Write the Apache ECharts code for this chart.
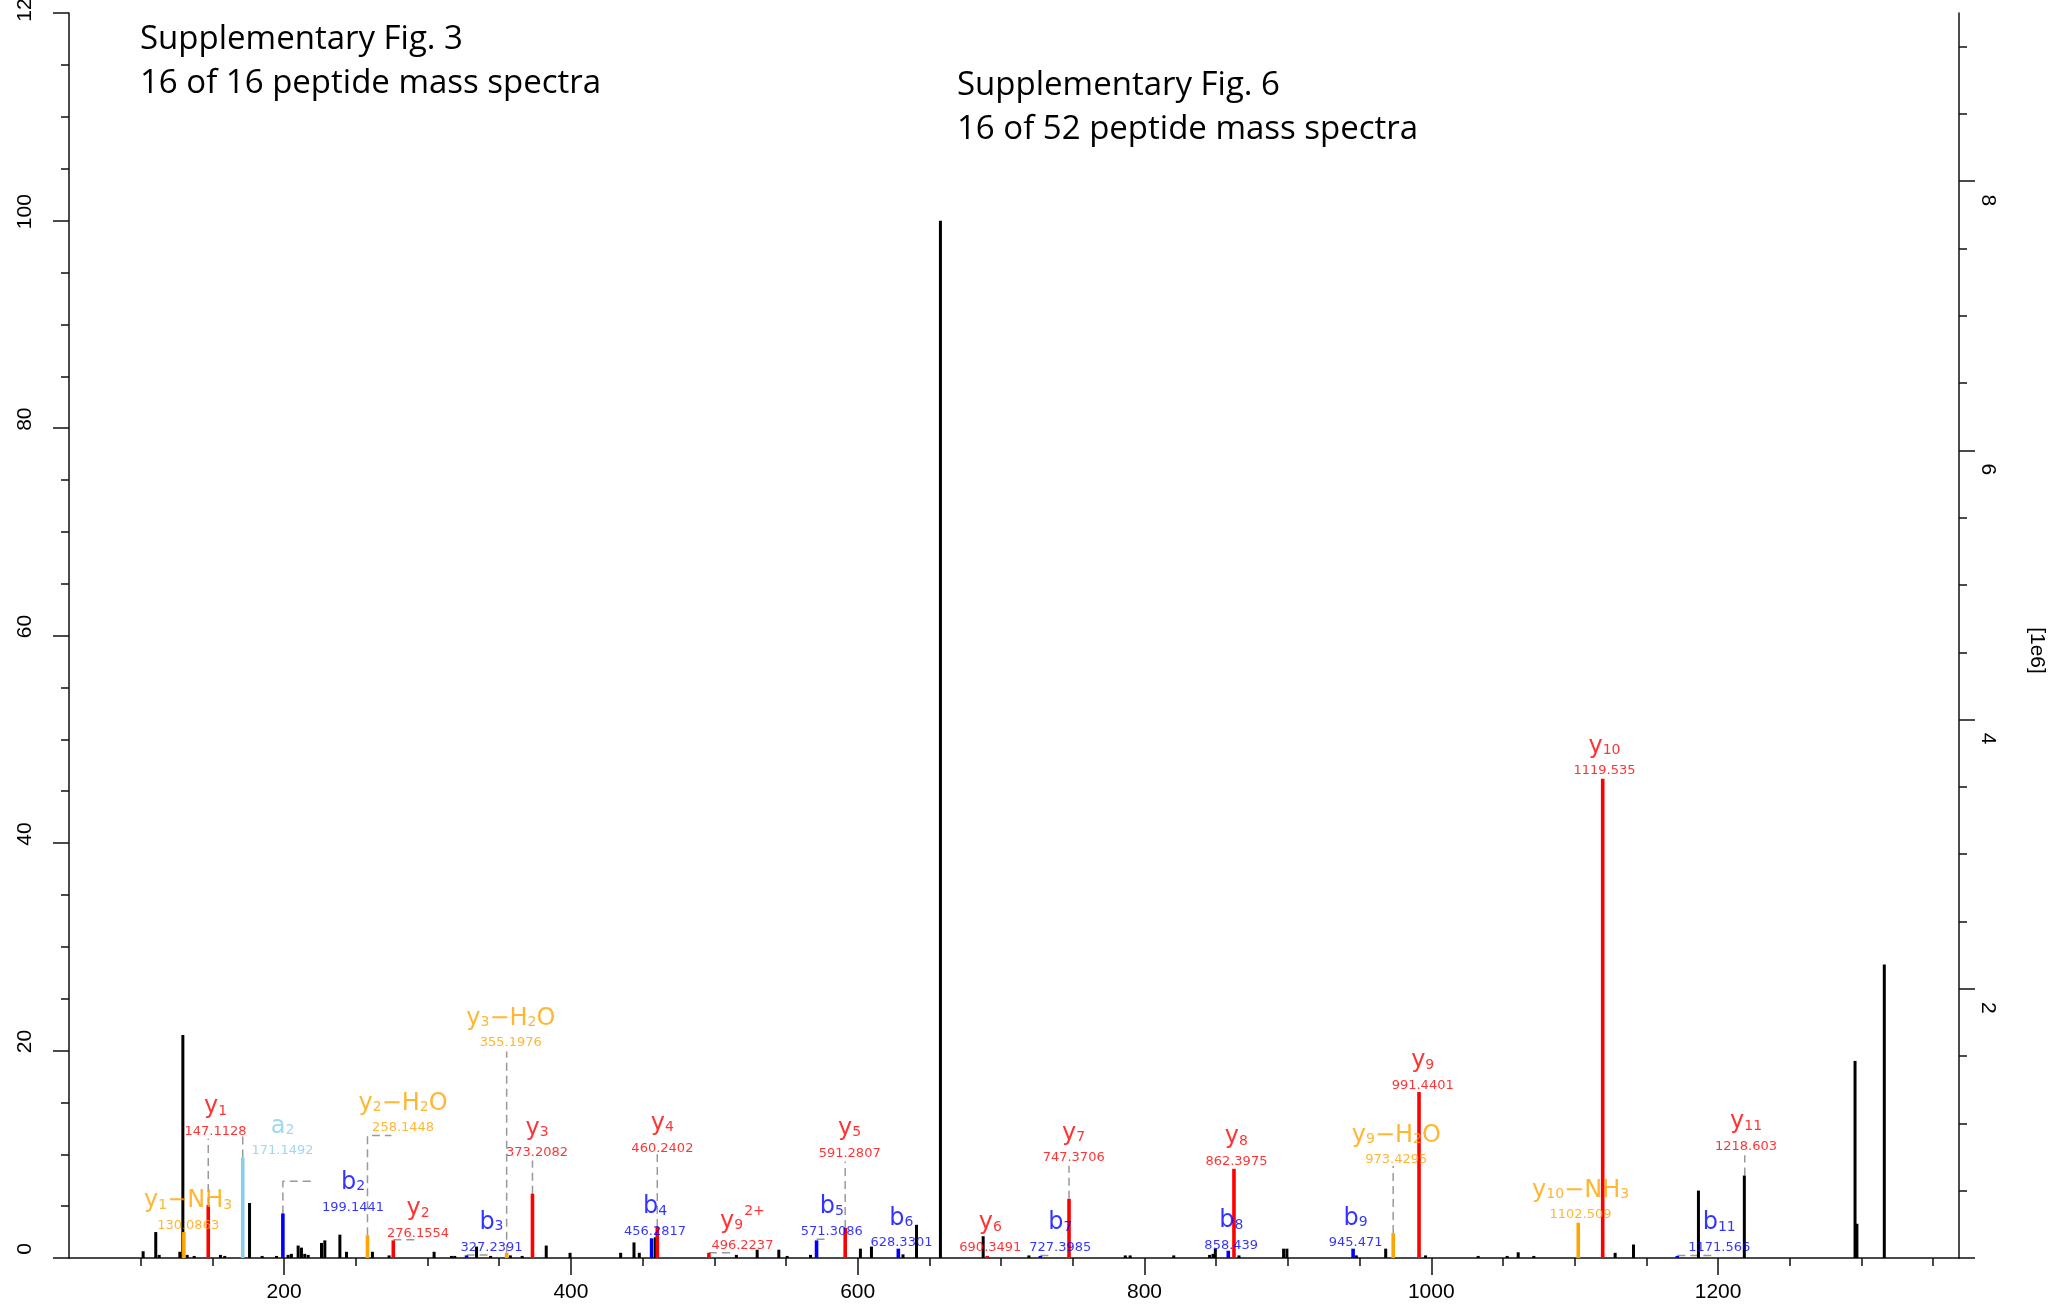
<!DOCTYPE html>
<html>
<head>
<meta charset="utf-8">
<title>Peptide mass spectrum</title>
<script src="https://cdn.jsdelivr.net/npm/echarts@6/dist/echarts.min.js"></script>
<style>
  html, body { margin: 0; padding: 0; background: #fff; }
  #chart { width: 2048px; height: 1306px; }
</style>
</head>
<body>
<div id="chart"></div>
<script>
"use strict";

/*****Data start*****/
// unannotated peaks: [m/z, relative intensity %]
var otherPeaks = [
	[101.7,0.65],[110.5,2.5],[112.9,0.3],[127.3,0.6],[129.4,21.5],[132.4,0.3],[137.3,0.2],
	[155.6,0.3],[158.6,0.2],[175.9,5.3],[184.7,0.2],[194.7,0.2],[202.8,0.3],[205.1,0.4],
	[209.8,1.2],[212.1,1.0],[214.4,0.4],[216.8,0.3],[226.1,1.45],[228.4,1.7],[238.9,2.25],
	[243.5,0.6],[261.6,0.6],[273.2,0.25],[304.6,0.6],[316.7,0.2],[319.0,0.2],[334.2,1.1],
	[344.0,0.2],[357.8,0.25],[366.0,0.2],[382.8,1.2],[399.4,0.5],[434.7,0.5],[444.0,1.5],
	[447.7,0.5],[458.9,2.0],[515.4,0.3],[529.9,0.8],[545.0,0.8],[550.8,0.2],[567.1,0.3],
	[601.9,0.9],[609.6,1.1],[631.6,0.35],[641.0,3.2],[657.7,100],[687.5,2.1],[719.4,0.25],
	[786.6,0.25],[790.0,0.25],[820.4,0.25],[845.4,0.3],[847.8,0.4],[849.4,0.9],[865.9,0.25],
	[897.0,0.9],[899.3,0.9],[947.7,0.25],[968.2,0.9],[996.0,0.25],[1032.7,0.2],[1052.9,0.2],
	[1060.6,0.55],[1071.5,0.2],[1128.2,0.5],[1141.0,1.3],[1186.3,6.5],[1218.3,7.95],
	[1295.5,19.0],[1296.8,3.3],[1315.9,28.3]
];
// annotated peaks
var yIons = [
	[147.1128,5.1],[276.1554,1.7],[373.2082,6.2],[460.2402,3.0],[496.2237,0.5],[591.2807,2.9],
	[690.3491,0.2],[747.3706,5.7],[862.3975,8.6],[991.4401,16.0],[1119.535,46.2]
];
var bIons = [
	[199.1441,4.3],[327.2391,0.25],[456.2817,1.9],[571.3086,1.7],[628.3301,0.9],[727.3985,0.2],
	[858.439,0.7],[945.471,0.9],[1171.566,0.2]
];
var lossIons = [[130.0863,2.5],[258.1448,2.2],[355.1976,0.5],[973.4295,2.4],[1102.509,3.4]];
var aIons = [[171.1492,9.7]];

// peak labels
var labelNames = ['y_1−NH_3','y_1','a_2','b_2','y_2−H_2O','y_2','b_3','y_3−H_2O','y_3','b_4','y_4','y_9^2+',
	'b_5','y_5','b_6','y_6','b_7','y_7','b_8','y_8','b_9','y_9−H_2O','y_9','y_10−NH_3','y_10','b_11','y_11'];
var labelMz = ['130.0863','147.1128','171.1492','199.1441','258.1448','276.1554','327.2391','355.1976',
	'373.2082','456.2817','460.2402','496.2237','571.3086','591.2807','628.3301','690.3491','727.3985',
	'747.3706','858.439','862.3975','945.471','973.4295','991.4401','1102.509','1119.535','1171.566','1218.603'];
var labelKind = ['loss','y','a','b','loss','y','b','loss','y','b','y','y','b','y','b','y','b','y','b','y','b',
	'loss','y','loss','y','b','y'];
var labelX = [133.1,152.2,198.9,248.1,283.0,293.4,344.6,358.1,376.4,458.7,463.8,519.6,581.9,594.4,630.5,
	692.5,741.3,750.6,860.5,864.1,947.2,975.6,994.0,1104.1,1120.8,1200.8,1219.5];
var labelY = [2.8,11.86,10.0,4.56,12.2,2.0,0.7,20.4,9.8,2.2,10.25,0.84,2.2,9.76,1.1,0.67,0.67,9.3,0.87,
	8.94,1.1,9.1,16.3,3.8,46.6,0.67,10.4];

// dashed connectors from peak to label
var connectors = [
	[[147.1128,5.1],[147.1128,11.5]],
	[[171.1492,9.7],[171.1492,12.0]],
	[[199.1441,4.3],[199.1441,7.4],[221.4,7.4]],
	[[258.1448,2.2],[258.1448,11.8],[274.9,11.8]],
	[[276.1554,1.75],[293.0,1.75]],
	[[327.2391,0.3],[343.7,0.3]],
	[[355.1976,0.5],[355.1976,19.9]],
	[[373.2082,6.2],[373.2082,9.4]],
	[[460.2402,3.0],[460.2402,10.0]],
	[[496.2237,0.5],[512.0,0.5]],
	[[571.3086,1.8],[578.0,1.8]],
	[[591.2807,2.9],[591.2807,9.3]],
	[[727.3985,0.25],[733.0,0.25]],
	[[747.3706,5.7],[747.3706,8.9]],
	[[973.4295,2.4],[973.4295,8.9]],
	[[1171.566,0.25],[1197.0,0.25]],
	[[1218.603,7.95],[1218.603,9.9]]
];

// axis ticks
var xMajor = [200,400,600,800,1000,1200];
var xMinor = [100,150,250,300,350,450,500,550,650,700,750,850,900,950,1050,1100,1150,1250,1300,1350];
var leftMajor = [0,20,40,60,80,100,120];
var leftMinor = [5,10,15,25,30,35,45,50,55,65,70,75,85,90,95,105,110,115];
var rightMajor = [0,2,4,6,8];
var rightLabels = [2,4,6,8];
var rightMinor = [0.5,1,1.5,2.5,3,3.5,4.5,5,5.5,6.5,7,7.5,8.5,9];
/*****Data end*****/

var kindColor = { y: '#ff0000', b: '#0000ff', loss: '#ffa500', a: '#87ceeb' };
var labelFont = "'DejaVu Sans', sans-serif";
var axisFont = "'Liberation Sans', Arial, sans-serif";
var titleFont = "'Open Sans', 'Noto Sans', sans-serif";

/*****Helpers start*****/
var stickSeries = function(data, color, width) {
	return {
		type: 'custom',
		xAxisIndex: 0,
		yAxisIndex: 0,
		silent: true,
		data: data,
		renderItem: function(params, api) {
			var top = api.coord([api.value(0), api.value(1)]);
			var base = api.coord([api.value(0), 0]);
			return {
				type: 'rect',
				shape: { x: top[0] - width / 2, y: top[1], width: width, height: Math.max(base[1] - top[1], 2) },
				style: { fill: color }
			};
		}
	};
};

var richName = function(str) {
	return str.split(/(_\d+|\^[\d+]+)/).filter(Boolean).map(function(part) {
		if (part.charAt(0) === '_') return '{s|' + part.slice(1) + '}';
		if (part.charAt(0) === '^') return '{p|' + part.slice(1) + '}';
		return '{n|' + part + '}';
	}).join('');
};

var richFor = function(color) {
	return {
		n: { fontFamily: labelFont, fontSize: 24, lineHeight: 34, color: color },
		s: { fontFamily: labelFont, fontSize: 14, color: color, padding: [8, 0, 0, 0] },
		p: { fontFamily: labelFont, fontSize: 14, color: color, padding: [0, 0, 19, 1] },
		m: { fontFamily: labelFont, fontSize: 13, lineHeight: 15, color: color }
	};
};
/*****Helpers end*****/

var series = [
	stickSeries(otherPeaks, '#000000', 3),
	stickSeries(yIons, kindColor.y, 3.6),
	stickSeries(bIons, kindColor.b, 3.6),
	stickSeries(lossIons, kindColor.loss, 3.6),
	stickSeries(aIons, kindColor.a, 3.6)
];

connectors.forEach(function(pts) {
	series.push({
		type: 'line',
		xAxisIndex: 0,
		yAxisIndex: 0,
		data: pts,
		symbol: 'none',
		silent: true,
		lineStyle: { color: '#999999', width: 1.5, type: [8, 5] },
		z: 1
	});
});

['y', 'b', 'loss', 'a'].forEach(function(kind) {
	var items = [];
	for (var i = 0; i < labelNames.length; i++) {
		if (labelKind[i] !== kind) continue;
		items.push({
			value: [labelX[i], labelY[i]],
			label: { formatter: richName(labelNames[i]) + '\n{m|' + labelMz[i] + '}' }
		});
	}
	series.push({
		type: 'scatter',
		xAxisIndex: 0,
		yAxisIndex: 0,
		symbolSize: 0,
		silent: true,
		data: items,
		z: 5,
		label: {
			show: true,
			position: 'top',
			distance: 0,
			offset: [0, 4],
			align: 'center',
			rich: richFor(kindColor[kind])
		}
	});
});

var axisLineStyle = { color: '#111', width: 1.5 };
var plainNum = function(v) { return String(v); };

var option = {
	animation: false,
	backgroundColor: '#ffffff',
	grid: { left: 69, right: 89, top: 13, bottom: 48, containLabel: false, outerBoundsMode: 'none' },
	xAxis: [
		{
			type: 'value', min: 50, max: 1368, position: 'bottom', offset: 2,
			axisLine: { show: true, lineStyle: axisLineStyle },
			axisTick: { show: true, length: 17, customValues: xMajor, lineStyle: axisLineStyle },
			axisLabel: { customValues: xMajor, formatter: plainNum, fontFamily: axisFont, fontSize: 21, color: '#000', margin: 22 },
			splitLine: { show: false }
		},
		{
			type: 'value', min: 50, max: 1368, position: 'bottom', offset: 2,
			axisLine: { show: false },
			axisTick: { show: true, length: 8, customValues: xMinor, lineStyle: axisLineStyle },
			axisLabel: { show: false },
			splitLine: { show: false }
		}
	],
	yAxis: [
		{
			type: 'value', min: 0, max: 120.02, position: 'left',
			axisLine: { show: true, lineStyle: axisLineStyle },
			axisTick: { show: true, length: 16, customValues: leftMajor, lineStyle: axisLineStyle },
			axisLabel: { customValues: leftMajor, formatter: plainNum, rotate: 90, margin: 33, fontFamily: axisFont, fontSize: 21, color: '#000', padding: [0, 0, 0, 18] },
			splitLine: { show: false }
		},
		{
			type: 'value', min: 0, max: 120.02, position: 'left',
			axisLine: { show: false },
			axisTick: { show: true, length: 8, customValues: leftMinor, lineStyle: axisLineStyle },
			axisLabel: { show: false },
			splitLine: { show: false }
		},
		{
			type: 'value', min: 0, max: 9.25, position: 'right',
			name: '[1e6]', nameLocation: 'middle', nameRotate: -90, nameGap: 67,
			nameTextStyle: { fontFamily: axisFont, fontSize: 21, color: '#000', padding: [0, 0, 0, 30] },
			axisLine: { show: true, lineStyle: axisLineStyle },
			axisTick: { show: true, length: 16, customValues: rightMajor, lineStyle: axisLineStyle },
			axisLabel: { customValues: rightLabels, formatter: plainNum, rotate: -90, margin: 18, fontFamily: axisFont, fontSize: 21, color: '#000', padding: [0, 0, 0, 38] },
			splitLine: { show: false }
		},
		{
			type: 'value', min: 0, max: 9.25, position: 'right',
			axisLine: { show: false },
			axisTick: { show: true, length: 8, customValues: rightMinor, lineStyle: axisLineStyle },
			axisLabel: { show: false },
			splitLine: { show: false }
		}
	],
	graphic: [
		{
			type: 'text', left: 140, top: 18, silent: true,
			style: { text: 'Supplementary Fig. 3\n16 of 16 peptide mass spectra', fontFamily: titleFont, fontSize: 33, lineHeight: 44, fill: '#000' }
		},
		{
			type: 'text', left: 957, top: 64, silent: true,
			style: { text: 'Supplementary Fig. 6\n16 of 52 peptide mass spectra', fontFamily: titleFont, fontSize: 33, lineHeight: 44, fill: '#000' }
		}
	],
	series: series
};

var chart = echarts.init(document.getElementById('chart'));
chart.setOption(option);
</script>
</body>
</html>
